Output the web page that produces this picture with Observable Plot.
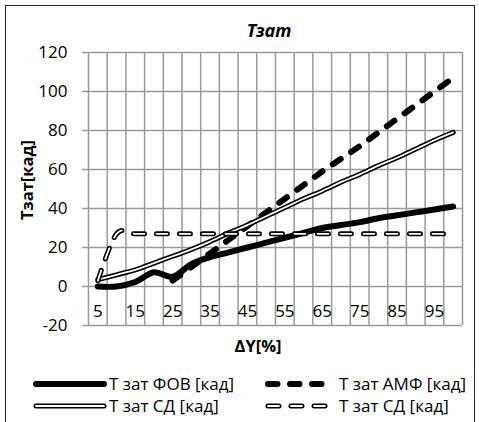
<!DOCTYPE html>
<html>
<head>
<meta charset="utf-8">
<script src="https://cdn.jsdelivr.net/npm/d3@7"></script>
<script src="https://cdn.jsdelivr.net/npm/@observablehq/plot@0.6"></script>
<style>
  body { margin: 0; background: #fff; font-family: "Open Sans", sans-serif; color: #000; }
  #frame { position: absolute; left: 5px; top: 5px; width: 470px; height: 440px;
           border: 1.5px solid #222; border-bottom: none; box-sizing: border-box; }
  #chart { position: absolute; left: 0; top: 0; }
  .lbl { position: absolute; white-space: nowrap; font-size: 17px; line-height: 1; }
  #title { left: 269px; top: 30px; transform: translate(-50%, -50%); font-family: "Noto Sans", sans-serif;
           font-weight: bold; font-style: italic; font-size: 18px; }
  #ytitle { left: 27px; top: 180px; transform: translate(-50%, -50%) rotate(-90deg); font-weight: bold; font-size: 16.5px; }
  #xtitle { left: 258px; top: 346px; transform: translate(-50%, -50%); font-weight: bold; font-size: 16.5px; }
  #legend { position: absolute; left: 0; top: 368px; }
</style>
</head>
<body>
<div id="frame"></div>
<div id="chart"></div>
<div id="title" class="lbl">Тзат</div>
<div id="ytitle" class="lbl">Тзат[кад]</div>
<div id="xtitle" class="lbl">ΔY[%]</div>
<div id="legend"></div>
<script>
// ΔY categories, %
const dY = [5, 10, 15, 20, 25, 30, 35, 40, 45, 50, 55, 60, 65, 70, 75, 80, 85, 90, 95, 100];
// Settling time series, frames
const tFov = [0, 0, 2.3, 7.3, 5, 11.5, 15, 17.5, 20, 22.5, 25, 27.5, 30, 31.5, 33, 35, 36.5, 38, 39.5, 41];
const tAmf = [null, null, null, null, 3, 10, 17, 24, 31, 38, 45, 52, 59, 65.5, 72, 79, 86, 93, 100, 107];
const tSd = [3.5, 6, 8.5, 12, 15.5, 19, 23, 27.5, 31.5, 36, 40.5, 45, 49, 53.5, 57.5, 62, 66, 70.5, 75, 79];
const tSd2 = [3, 27, 27, 27, 27, 27, 27, 27, 27, 27, 27, 27, 27, 27, 27, 27, 27, 27, 27, 27];
// Axis labels
const xTickLabels = [5, 15, 25, 35, 45, 55, 65, 75, 85, 95];
const yTicks = [-20, 0, 20, 40, 60, 80, 100, 120];
const seriesNames = ["Т зат ФОВ [кад]", "Т зат АМФ [кад]", "Т зат СД [кад]", "Т зат СД [кад]"];

const rows = (vals) => dY.map((x, i) => ({x, y: vals[i]})).filter(d => d.y != null);
const xBounds = d3.range(2.5, 103, 5);

const grid = "#9a9a9a";
const dashThick = "9.5,12.5";
const dashDouble = "11,12";
const lineOpts = {x: "x", y: "y", curve: "cardinal", strokeLinecap: "round", strokeLinejoin: "round"};

const plot = Plot.plot({
  width: 479,
  height: 360,
  marginLeft: 88,
  marginRight: 17,
  marginTop: 52,
  marginBottom: 35,
  x: {domain: [2.5, 102.5], axis: null},
  y: {domain: [-20, 120], axis: null},
  style: {fontFamily: "Open Sans, sans-serif", fontSize: "17px", color: "#000", background: "transparent"},
  marks: [
    Plot.ruleY(yTicks, {stroke: grid, strokeWidth: 1.5}),
    Plot.ruleX(xBounds, {stroke: grid, strokeWidth: 1.5}),
    Plot.axisY({ticks: yTicks, label: null, tickSize: 6, tickPadding: 15, tickFormat: d => String(d),
                stroke: grid, strokeWidth: 1.5, fill: "#000", fontSize: 17}),
    Plot.text(xTickLabels, {x: d => d, y: 0, dy: 25, fill: "#000", fontSize: 17}),
    // ФОВ: thick solid
    Plot.line(rows(tFov), {...lineOpts, stroke: "#000", strokeWidth: 6}),
    // АМФ: thick dashed
    Plot.line(rows(tAmf), {...lineOpts, stroke: "#000", strokeWidth: 6, strokeDasharray: dashThick}),
    // СД: double line (black outline, white core)
    Plot.line(rows(tSd), {...lineOpts, stroke: "#000", strokeWidth: 5}),
    Plot.line(rows(tSd), {...lineOpts, stroke: "#fff", strokeWidth: 1.8}),
    // СД dashed: double dashed line
    Plot.line(rows(tSd2), {...lineOpts, stroke: "#000", strokeWidth: 5, strokeDasharray: dashDouble}),
    Plot.line(rows(tSd2), {...lineOpts, stroke: "#fff", strokeWidth: 1.8, strokeDasharray: dashDouble})
  ]
});
document.getElementById("chart").appendChild(plot);

// Legend: two columns, two rows
const leg = d3.select("#legend").append("svg").attr("width", 479).attr("height", 52)
  .style("font-family", "Open Sans, sans-serif").style("font-size", "17px");
const items = [
  {name: seriesNames[0], col: 0, row: 0, layers: [{w: 6, c: "#000", d: null}]},
  {name: seriesNames[1], col: 1, row: 0, layers: [{w: 6, c: "#000", d: dashThick}]},
  {name: seriesNames[2], col: 0, row: 1, layers: [{w: 5, c: "#000", d: null}, {w: 1.8, c: "#fff", d: null}]},
  {name: seriesNames[3], col: 1, row: 1, layers: [{w: 5, c: "#000", d: dashDouble}, {w: 1.8, c: "#fff", d: dashDouble}]}
];
const colX = [{x0: 36, x1: 104, tx: 109}, {x0: 268, x1: 325, tx: 339}];
const rowY = [16, 38];
for (const it of items) {
  const c = colX[it.col], y = rowY[it.row];
  for (const l of it.layers) {
    leg.append("line").attr("x1", c.x0).attr("x2", c.x1).attr("y1", y).attr("y2", y)
      .attr("stroke", l.c).attr("stroke-width", l.w).attr("stroke-linecap", "round")
      .attr("stroke-dasharray", l.d);
  }
  leg.append("text").attr("x", c.tx).attr("y", y).attr("dy", "0.35em").text(it.name);
}
</script>
</body>
</html>
